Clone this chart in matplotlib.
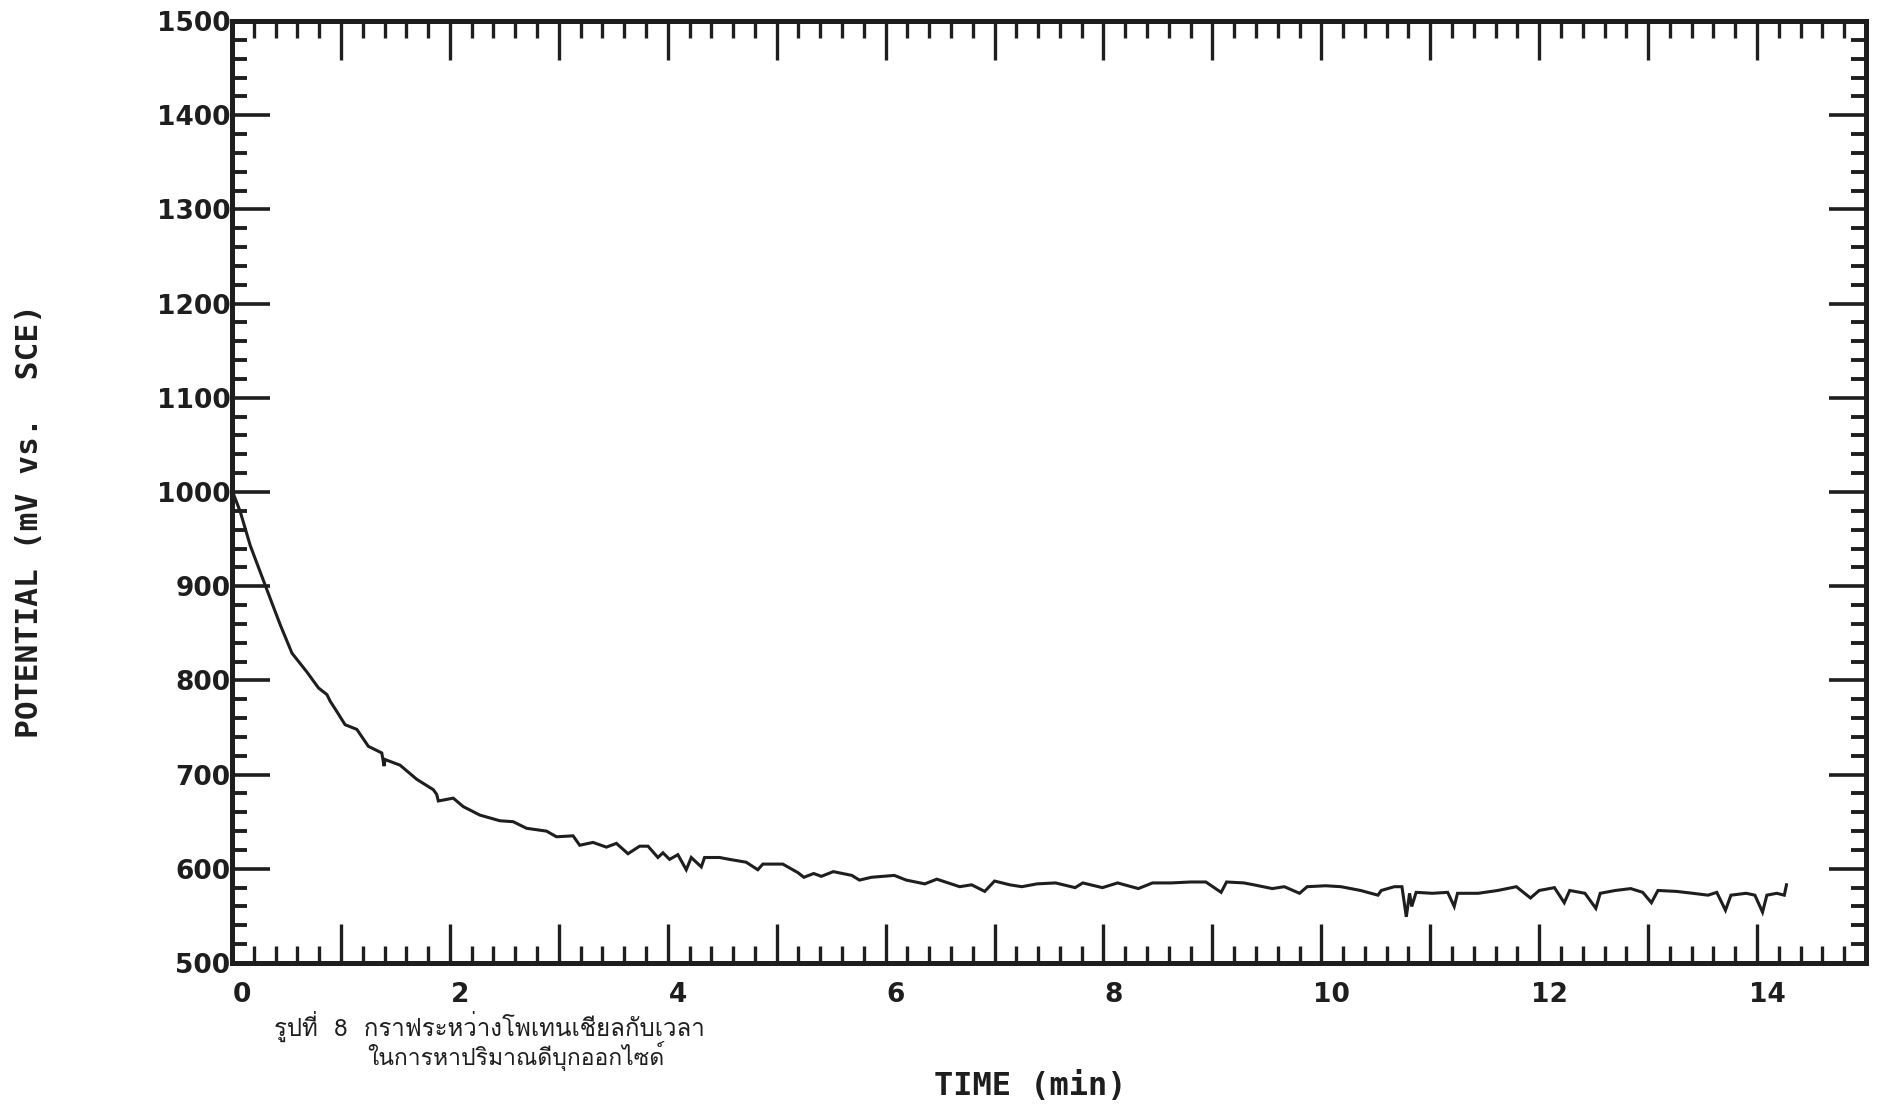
import matplotlib
matplotlib.use("Agg")
import matplotlib.pyplot as plt
from matplotlib import font_manager as fm
from matplotlib.ft2font import FT2Font
from matplotlib.ticker import FixedLocator, MultipleLocator, FuncFormatter
import matplotlib.transforms as mtransforms

# ---------------- data ----------------
time_min = [
    0.0, 0.076, 0.168, 0.259, 0.336, 0.367, 0.443, 0.55, 0.687, 0.794,
    0.871, 0.901, 0.962, 1.038, 1.146, 1.252, 1.375, 1.396, 1.405, 1.543,
    1.696, 1.848, 1.879, 1.894, 2.031, 2.123, 2.276, 2.459, 2.581, 2.704,
    2.887, 2.979, 3.131, 3.192, 3.314, 3.437, 3.529, 3.635, 3.742, 3.819,
    3.91, 3.956, 4.017, 4.093, 4.17, 4.216, 4.308, 4.338, 4.476, 4.567,
    4.72, 4.827, 4.873, 5.056, 5.194, 5.25, 5.34, 5.41, 5.52, 5.69,
    5.76, 5.87, 6.08, 6.19, 6.36, 6.47, 6.68, 6.79, 6.91, 7.0,
    7.14, 7.25, 7.39, 7.56, 7.74, 7.81, 7.99, 8.13, 8.32, 8.45,
    8.62, 8.8, 8.94, 9.08, 9.13, 9.29, 9.38, 9.55, 9.66, 9.80,
    9.87, 10.04, 10.18, 10.36, 10.52, 10.55, 10.67, 10.74, 10.78, 10.81,
    10.83, 10.87, 11.02, 11.16, 11.22, 11.25, 11.44, 11.62, 11.79, 11.92,
    12.0, 12.14, 12.23, 12.28, 12.42, 12.52, 12.56, 12.70, 12.84, 12.95,
    13.03, 13.09, 13.26, 13.41, 13.55, 13.63, 13.71, 13.76, 13.90, 13.98,
    14.05, 14.09, 14.18, 14.25, 14.27,
]
potential_mv = [
    1002, 979, 943, 915, 891, 882, 859, 829, 809, 792,
    785, 778, 767, 753, 748, 730, 723, 709, 716, 710,
    695, 684, 679, 672, 675, 666, 657, 651, 650, 643,
    640, 634, 635, 625, 628, 623, 627, 616, 624, 624,
    612, 617, 610, 615, 599, 612, 602, 612, 612, 610,
    607, 599, 605, 605, 596, 591, 595, 592, 597, 593,
    588, 591, 593, 588, 584, 589, 581, 583, 576, 587,
    583, 581, 584, 585, 580, 585, 580, 585, 579, 585,
    585, 586, 586, 575, 586, 585, 583, 579, 581, 574,
    581, 582, 581, 577, 572, 577, 581, 581, 549, 574,
    560, 575, 574, 575, 560, 574, 574, 577, 581, 569,
    577, 580, 564, 577, 574, 558, 574, 577, 579, 575,
    564, 577, 576, 574, 572, 575, 556, 572, 574, 572,
    554, 572, 574, 572, 583,
]

x_major_ticks = list(range(0, 16))
x_tick_labels = {0: "0", 2: "2", 4: "4", 6: "6", 8: "8", 10: "10", 12: "12", 14: "14"}
y_major_ticks = list(range(500, 1501, 100))

x_label = "TIME (min)"
y_label = "POTENTIAL (mV vs.  SCE)"
caption_line1 = "รูปที่  8  กราฟระหว่างโพเทนเชียลกับเวลา"
caption_line2 = "ในการหาปริมาณดีบุกออกไซด์"

# ---------------- fonts ----------------
thai_family = None
for f in fm.fontManager.ttflist:
    try:
        if 0x0E01 in FT2Font(f.fname).get_charmap():
            thai_family = f.name
            break
    except Exception:
        pass
thai_fams = [thai_family, "DejaVu Sans"] if thai_family else ["DejaVu Sans"]

INK = "#1e1e1e"
W, H, DPI = 1877, 1106, 100
fig = plt.figure(figsize=(W / DPI, H / DPI), dpi=DPI, facecolor="white")

L, R, T, B = 232, 1866, 21, 963
ax = fig.add_axes([L / W, 1 - B / H, (R - L) / W, (B - T) / H])
ax.set_facecolor("white")

ax.plot(time_min, potential_mv, color=INK, lw=2.2, solid_joinstyle="miter")

ax.set_xlim(0, 15)
ax.set_ylim(500, 1500)

ax.xaxis.set_major_locator(FixedLocator(x_major_ticks))
ax.xaxis.set_minor_locator(MultipleLocator(0.2))
ax.xaxis.set_major_formatter(FuncFormatter(lambda v, p: x_tick_labels.get(int(round(v)), "")))
ax.yaxis.set_major_locator(FixedLocator(y_major_ticks))
ax.yaxis.set_minor_locator(MultipleLocator(20))

for s in ax.spines.values():
    s.set_linewidth(3.6)
    s.set_color(INK)

ax.tick_params(axis="both", which="both", direction="in", top=True, right=True,
               color=INK, labelcolor=INK)
ax.tick_params(axis="x", which="major", length=28, width=2.4, pad=14, labelsize=19)
ax.tick_params(axis="x", which="minor", length=12, width=2.4)
ax.tick_params(axis="y", which="major", length=27, width=2.6, pad=1, labelsize=19)
ax.tick_params(axis="y", which="minor", length=11, width=2.8)

for lbl in ax.get_xticklabels() + ax.get_yticklabels():
    lbl.set_fontweight("bold")
    lbl.set_family("DejaVu Sans")

offset = mtransforms.ScaledTranslation(10 / DPI, 0, fig.dpi_scale_trans)
for tick in ax.xaxis.get_major_ticks():
    tick.label1.set_transform(tick.label1.get_transform() + offset)

fig.text(30 / W, 1 - 521 / H, y_label, rotation=90, ha="center", va="center",
         family="DejaVu Sans Mono", fontweight="bold", fontsize=22.5, color=INK)
fig.text(1030 / W, 1 - 1087 / H, x_label, ha="center", va="center",
         family="DejaVu Sans Mono", fontweight="bold", fontsize=23, color=INK)

t1 = fig.text(274 / W, 1 - 1026 / H, caption_line1, ha="left", va="center",
              family=thai_fams, fontsize=17, color=INK)
t2 = fig.text(367 / W, 1 - 1056 / H, caption_line2, ha="left", va="center",
              family=thai_fams, fontsize=17, color=INK)

# fit caption widths to the reference
fig.canvas.draw()
r = fig.canvas.get_renderer()
for t, target in ((t1, 430), (t2, 297)):
    w = t.get_window_extent(r).width
    if w > 0:
        t.set_fontsize(t.get_fontsize() * target / w)

fig.savefig("out.png", dpi=DPI, facecolor="white")
